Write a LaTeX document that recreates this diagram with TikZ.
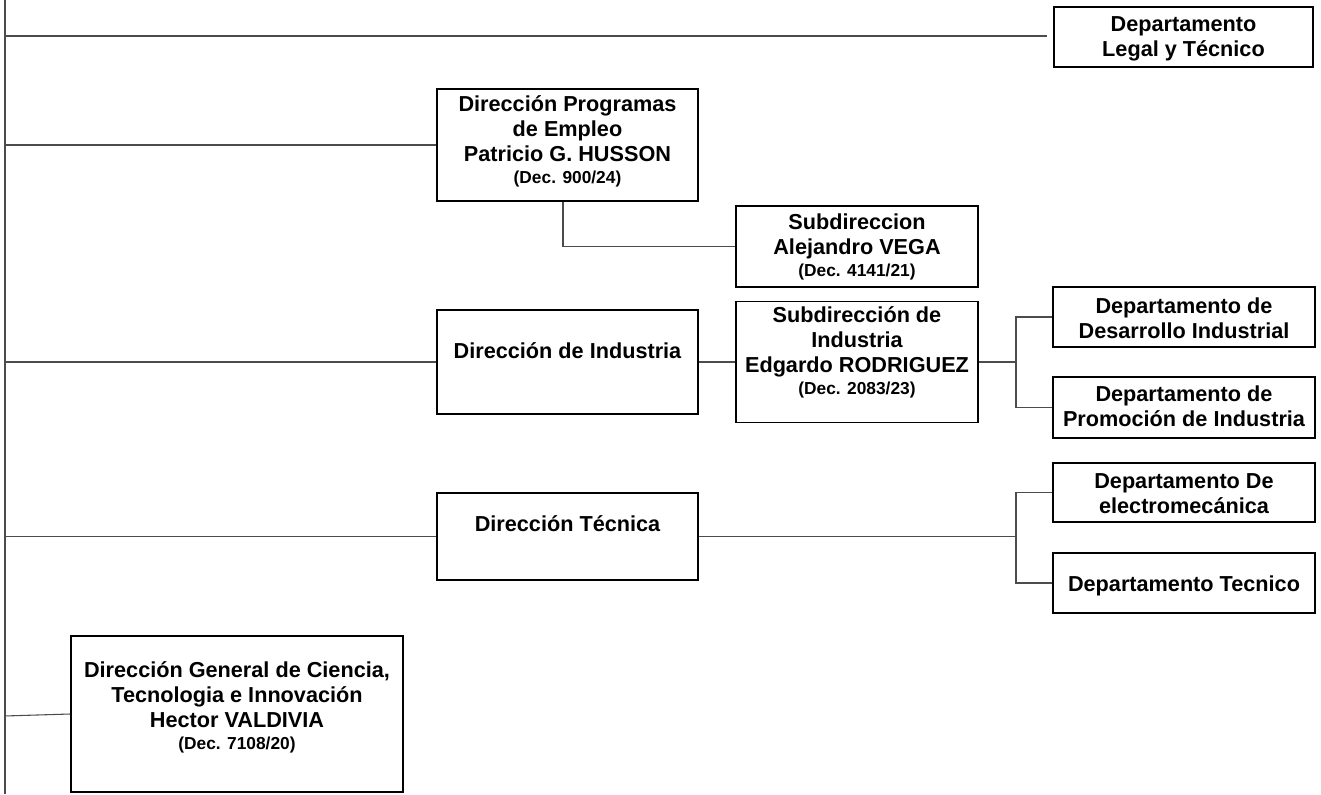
\documentclass[tikz,border=0pt]{standalone}
\usepackage{fontspec}
\setmainfont{Liberation Sans}
\newcommand{\decfont}{\fontsize{13}{17}\selectfont}
\begin{document}
\begin{tikzpicture}[x=0.75pt,y=-0.75pt,
  box/.style={draw=black,line width=1.4pt,inner sep=0pt,fill=white},
  conn/.style={draw=black!70,line width=0.8pt},
  txt/.style={align=center,anchor=base,inner sep=0pt,
    font=\bfseries\fontsize{16.25}{18.5}\selectfont},
]
\useasboundingbox[fill=white] (0,0) rectangle (1321,794);
% trunk
\coordinate (ttop) at (5,0);
\coordinate (tbot) at (5,794);
\coordinate (bus) at (1016,0);
\coordinate (legalend) at (1047,36);
\draw[conn] (ttop) -- (tbot);

% boxes (px centres, sizes in pt = px*0.75)
\node[box,minimum width=194.25pt,minimum height=45pt]   (legal)  at (1183.5,37) {};
\node[box,minimum width=195.75pt,minimum height=84pt]   (prog)   at (567.5,145) {};
\node[box,minimum width=181.5pt,minimum height=60.75pt] (vega)   at (857,246.5) {};
\node[box,minimum width=195.75pt,minimum height=78pt]   (ind)    at (567.5,362) {};
\node[box,minimum width=181.5pt,minimum height=90.75pt] (subind) at (857,362) {};
\node[box,minimum width=196.5pt,minimum height=45pt]    (desa)   at (1184,317) {};
\node[box,minimum width=196.5pt,minimum height=45.75pt] (prom)   at (1184,407.5) {};
\node[box,minimum width=195.75pt,minimum height=65.25pt](tec)    at (567.5,536.5) {};
\node[box,minimum width=196.5pt,minimum height=44.25pt] (elec)   at (1184,492.5) {};
\node[box,minimum width=196.5pt,minimum height=45pt]    (dtec)   at (1184,583) {};
\node[box,minimum width=249pt,minimum height=117pt]     (dg)     at (237,714) {};

% texts (anchored at the baseline of their last line)
\node[txt] (legalT)  at (1183.5,56) {Departamento\\Legal y Técnico};
\node[txt] (progT)   at (567.5,183) {Dirección Programas\\de Empleo\\Patricio G. HUSSON\\[-2pt]{\decfont (Dec. 900/24)}};
\node[txt] (vegaT)   at (857,276) {Subdireccion\\Alejandro VEGA\\[-2pt]{\decfont (Dec. 4141/21)}};
\node[txt] (indT)    at (567.5,358) {Dirección de Industria};
\node[txt] (subindT) at (857,394) {Subdirección de\\Industria\\Edgardo RODRIGUEZ\\[-2pt]{\decfont (Dec. 2083/23)}};
\node[txt] (desaT)   at (1184,338) {Departamento de\\Desarrollo Industrial};
\node[txt] (promT)   at (1184,426) {Departamento de\\Promoción de Industria};
\node[txt] (tecT)    at (567.5,531) {Dirección Técnica};
\node[txt] (elecT)   at (1184,513) {Departamento De\\electromecánica};
\node[txt] (dtecT)   at (1184,591) {Departamento Tecnico};
\node[txt] (dgT)     at (237,749) {Dirección General de Ciencia,\\Tecnologia e Innovación\\Hector VALDIVIA\\[-2pt]{\decfont (Dec. 7108/20)}};

% connectors
\draw[conn] (legalend) -- (legalend -| ttop);
\draw[conn] (prog.west) -- (prog.west -| ttop);
\draw[conn] (ind.west) -- (ind.west -| ttop);
\draw[conn] (tec.west) -- (tec.west -| ttop);
\draw[conn] (dg.west) -- ++(-66,2);
\draw[conn] ([xshift=-3.4pt]prog.south) |- (vega.west);
\draw[conn] (ind.east) -- (subind.west);
\draw[conn] (subind.east) -- (subind.east -| bus);
\draw[conn] (desa.west) -| (prom.west -| bus) -- (prom.west);
\draw[conn] (tec.east) -- (tec.east -| bus);
\draw[conn] (elec.west) -| (dtec.west -| bus) -- (dtec.west);
\end{tikzpicture}
\end{document}
